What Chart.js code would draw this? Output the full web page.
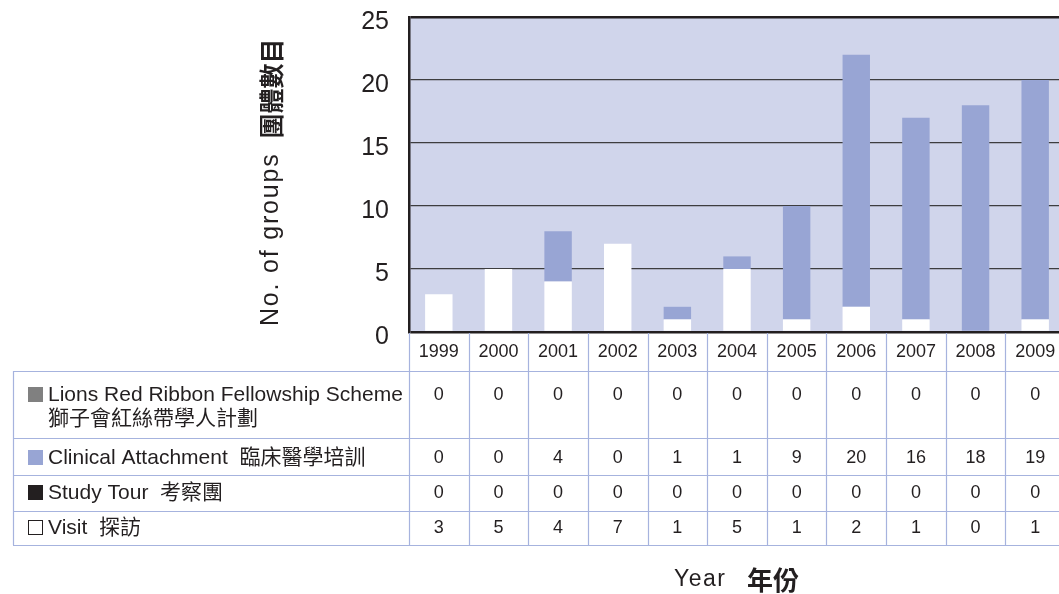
<!DOCTYPE html>
<html>
<head>
<meta charset="utf-8">
<title>No. of groups by year</title>
<script src="https://cdn.jsdelivr.net/npm/chart.js@4/dist/chart.umd.min.js"></script>
<style>
  html, body { margin: 0; padding: 0; overflow: hidden; background: #fff; }
  #wrap { position: absolute; left: 0; top: 0; width: 1080px; height: 594px; }
</style>
</head>
<body>
<div id="wrap"><canvas id="groupsChart"></canvas></div>
<script>
// years along the x axis
const years = ['1999', '2000', '2001', '2002', '2003', '2004', '2005', '2006', '2007', '2008', '2009'];

// groups per programme, one value per year
const lionsScheme = [0, 0, 0, 0, 0, 0, 0, 0, 0, 0, 0];
const clinicalAttachment = [0, 0, 4, 0, 1, 1, 9, 20, 16, 18, 19];
const studyTour = [0, 0, 0, 0, 0, 0, 0, 0, 0, 0, 0];
const visits = [3, 5, 4, 7, 1, 5, 1, 2, 1, 0, 1];

// y axis range
const yMax = 25;
const yStep = 5;

const FONT = '"Liberation Sans", Arial, "Noto Sans CJK TC", sans-serif';
const INK = '#231f20';
const RULE = '#a6b3de';

// rows of the table under the chart, top to bottom
const tableRows = [
  { lines: ['Lions Red Ribbon Fellowship Scheme', '獅子會紅絲帶學人計劃'], data: lionsScheme, color: '#808080' },
  { lines: ['Clinical Attachment  臨床醫學培訓'], data: clinicalAttachment, color: '#98a5d4' },
  { lines: ['Study Tour  考察團'], data: studyTour, color: '#231f20' },
  { lines: ['Visit  探訪'], data: visits, color: '#ffffff' }
];

// row bands of the table and text centre lines
const tableLeft = 13;
const tableTop = 371;
const rowBottoms = [438, 475, 511, 545];
const rowTextY = [[395, 418], [458], [493], [528]];

// stack from the bottom: visits first
const datasets = tableRows.slice().reverse().map(r => ({
  label: r.lines.join(' '),
  data: r.data,
  backgroundColor: r.color,
  borderWidth: 0,
  barPercentage: 0.46,
  categoryPercentage: 1
}));

const backdrop = {
  id: 'backdrop',
  beforeDraw(chart) {
    const { ctx, chartArea: a } = chart;
    ctx.save();
    ctx.fillStyle = '#d0d5eb';
    ctx.fillRect(a.left, a.top, a.right - a.left, a.bottom - a.top);
    ctx.restore();
  }
};

const dataTable = {
  id: 'dataTable',
  afterDraw(chart) {
    const { ctx, chartArea: a, scales: { x } } = chart;
    const W = chart.width;
    const half = (x.getPixelForValue(1) - x.getPixelForValue(0)) / 2;
    ctx.save();

    // grid of the table
    ctx.strokeStyle = RULE;
    ctx.lineWidth = 1.2;
    ctx.beginPath();
    [tableTop].concat(rowBottoms).forEach(y => {
      ctx.moveTo(tableLeft, y + 0.5);
      ctx.lineTo(W, y + 0.5);
    });
    ctx.moveTo(tableLeft + 0.5, tableTop);
    ctx.lineTo(tableLeft + 0.5, rowBottoms[rowBottoms.length - 1]);
    for (let i = 0; i <= years.length; i++) {
      const px = Math.round(x.getPixelForValue(i) - half) + 0.5;
      ctx.moveTo(px, a.bottom + 1);
      ctx.lineTo(px, rowBottoms[rowBottoms.length - 1]);
    }
    ctx.stroke();

    // row labels with colour keys
    ctx.textBaseline = 'middle';
    tableRows.forEach((row, r) => {
      const ys = rowTextY[r];
      ctx.fillStyle = row.color;
      ctx.fillRect(28, ys[0] - 8, 15, 15);
      if (row.color === '#ffffff') {
        ctx.strokeStyle = INK;
        ctx.lineWidth = 1;
        ctx.strokeRect(28.5, ys[0] - 7.5, 14, 14);
      }
      ctx.fillStyle = INK;
      ctx.textAlign = 'left';
      ctx.font = '21px ' + FONT;
      row.lines.forEach((t, k) => ctx.fillText(t, 48, ys[k] + (k ? 1 : 0)));

      ctx.textAlign = 'center';
      ctx.font = '18px ' + FONT;
      row.data.forEach((v, i) => ctx.fillText(String(v), x.getPixelForValue(i), ys[0]));
    });

    // axis titles
    ctx.fillStyle = INK;
    ctx.textAlign = 'left';
    ctx.save();
    ctx.translate(271, 326);
    ctx.rotate(-Math.PI / 2);
    ctx.letterSpacing = '1.8px';
    ctx.font = '25px ' + FONT;
    ctx.fillText('No. of groups', 0, 0);
    const w1 = ctx.measureText('No. of groups').width;
    ctx.letterSpacing = '0px';
    ctx.font = 'bold 25px "Noto Sans CJK TC", sans-serif';
    ctx.fillText('團體數目', w1 + 14, 0);
    ctx.restore();

    ctx.letterSpacing = '1.5px';
    ctx.font = '23px ' + FONT;
    ctx.fillText('Year', 674, 580);
    ctx.letterSpacing = '0px';
    ctx.font = 'bold 26px "Noto Sans CJK TC", sans-serif';
    ctx.fillText('年份', 747, 580);
    ctx.restore();
  }
};

const ctx = document.getElementById('groupsChart').getContext('2d');

new Chart(ctx, {
  type: 'bar',
  data: { labels: years, datasets: datasets },
  options: {
    responsive: true,
    maintainAspectRatio: false,
    animation: false,
    layout: { padding: { left: 0, right: 15, top: 17, bottom: 0 } },
    plugins: { legend: { display: false }, tooltip: { enabled: false } },
    scales: {
      x: {
        stacked: true,
        afterFit: (scale) => {
          scale.height = 262;
          scale.paddingLeft = 0;
          scale.paddingRight = 0;
        },
        grid: { display: false, drawTicks: false },
        border: { display: false },
        ticks: { color: INK, font: { family: FONT, size: 18 }, padding: 9, maxRotation: 0 }
      },
      y: {
        stacked: true,
        min: 0,
        max: yMax,
        afterFit: (scale) => {
          scale.width = 409;
          scale.paddingTop = 0;
          scale.paddingBottom = 0;
        },
        grid: {
          drawTicks: false,
          color: (c) => (c.tick.value === 0 || c.tick.value === yMax) ? INK : '#3d3d3f',
          lineWidth: (c) => (c.tick.value === 0 || c.tick.value === yMax) ? 2.5 : 1.2
        },
        border: { display: true, color: INK, width: 2.5 },
        ticks: { stepSize: yStep, color: INK, font: { family: FONT, size: 25 }, padding: 20, labelOffset: 5 }
      }
    }
  },
  plugins: [backdrop, dataTable]
});
</script>
</body>
</html>
